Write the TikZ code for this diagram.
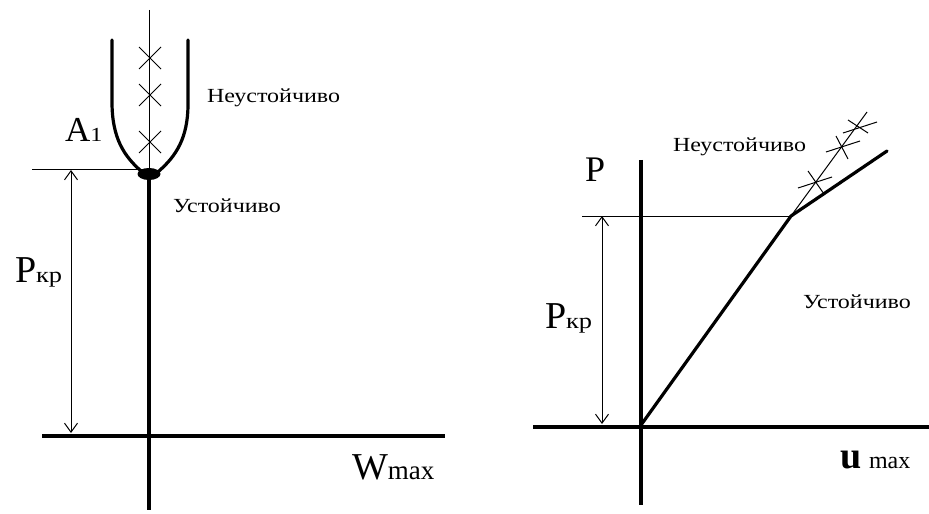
\documentclass[tikz,border=0pt]{standalone}
\usepackage{fontspec}
\setmainfont{Liberation Serif}
\newfontfamily\cyrwide{Liberation Serif}[FakeStretch=1.2]
\usetikzlibrary{
    arrows.meta,
    positioning
}

\begin{document}
\begin{tikzpicture}[
  x=0.5pt,
  y=-0.5pt,
  every node/.style={inner sep=0pt, outer sep=0pt},
  axisline/.style={line width=2pt},
  branch/.style={line width=1.6pt, line cap=round},
  thinline/.style={line width=0.5pt},
  crossmark/.style={line width=0.5pt},
  dimarrow/.style={
    {Straight Barb[length=4.5pt,width=6.5pt]}-{Straight Barb[length=4.5pt,width=6.5pt]},
    line width=0.5pt
  },
  zonelabel/.style={
    anchor=base west,
    font=\fontsize{10}{12}\selectfont\cyrwide
  },
  biglabel/.style={
    anchor=base west,
    font=\fontsize{19}{22}\selectfont
  }
]
  \useasboundingbox (0,0) rectangle (929,513);

  % Left plot: axes and bifurcation point.
  \coordinate (topL) at (149,10);
  \coordinate (bifL) at (149,174);
  \coordinate (bottomL) at (149,510);
  \coordinate (xleftL) at (42,436);
  \coordinate (xrightL) at (445,436);
  \draw[thinline] (topL) -- (bifL);
  \draw[axisline] (bifL) -- (bottomL);
  \draw[axisline] (xleftL) -- (xrightL);
  \fill (bifL) ellipse [x radius=11.5, y radius=6];

  % Unstable post-critical branches.
  \draw[branch] (112,40) -- (112,102) .. controls (112,138) and (124,156) .. (141,171);
  \draw[branch] (188,40) -- (188,104) .. controls (188,138) and (176,156) .. (159,171);

  % Crosses on the unstable straight form.
  \draw[crossmark] (139,47) -- (161,69) (139,69) -- (161,47);
  \draw[crossmark] (139,84) -- (161,106) (139,106) -- (161,84);
  \draw[crossmark] (139,131) -- (161,153) (139,153) -- (161,131);

  % Critical load dimension.
  \coordinate (pcrlineL) at (32,170);
  \coordinate (pcrtopL) at (71,170);
  \coordinate (pcrbotL) at (71,433);
  \draw[thinline] (pcrlineL) -- (bifL |- pcrlineL);
  \draw[dimarrow] (pcrtopL) -- (pcrbotL);

  \node[biglabel, font=\fontsize{17.5}{20}\selectfont] (aone) at (65,142) {A{\fontsize{10}{12}\selectfont\cyrwide 1}};
  \node[zonelabel] (unstableL) at (207,103) {Неустойчиво};
  \node[zonelabel] (stableL) at (173,213) {Устойчиво};
  \node[biglabel] (pcrL) at (15,282) {P{\fontsize{11}{13}\selectfont\cyrwide кр}};
  \node[biglabel] (wmax) at (352,479) {W{\fontsize{13.5}{15}\selectfont max}};

  % Right plot: axes and load-displacement path.
  \coordinate (originR) at (641,425);
  \coordinate (topR) at (641,160);
  \coordinate (bottomR) at (641,505);
  \coordinate (xleftR) at (533,427);
  \coordinate (xrightR) at (929,427);
  \coordinate (kinkR) at (791,216);
  \coordinate (endR) at (887,151);
  \coordinate (unstableendR) at (867,112);
  \draw[axisline] (topR) -- (bottomR);
  \draw[axisline] (xleftR) -- (xrightR);
  \draw[branch] (originR) -- (kinkR) -- (endR);
  \draw[thinline] (kinkR) -- (unstableendR);

  % Crosses on the unstable path.
  \draw[crossmark] (798,188) -- (832,177) (808,171) -- (824,194);
  \draw[crossmark] (826,152) -- (860,141) (836,136) -- (848,159);
  \draw[crossmark] (843,133) -- (877,122) (848,120) -- (868,133);

  % Critical load dimension.
  \coordinate (pcrlineR) at (582,216);
  \coordinate (pcrtopR) at (602,216);
  \coordinate (pcrbotR) at (602,424);
  \draw[thinline] (pcrlineR) -- (kinkR);
  \draw[dimarrow] (pcrtopR) -- (pcrbotR);

  \node[biglabel, font=\fontsize{18}{21}\selectfont] (pload) at (585,182) {P};
  \node[biglabel] (pcrR) at (545,328) {P{\fontsize{11}{13}\selectfont\cyrwide кр}};
  \node[zonelabel] (unstableR) at (673,152) {Неустойчиво};
  \node[zonelabel] (stableR) at (803,308) {Устойчиво};
  \node[anchor=base west, font=\fontsize{19}{21}\selectfont\bfseries] (uload) at (840,468) {u};
  \node[anchor=base west, font=\fontsize{12}{14}\selectfont] (umax) at (869,468) {max};
\end{tikzpicture}
\end{document}
